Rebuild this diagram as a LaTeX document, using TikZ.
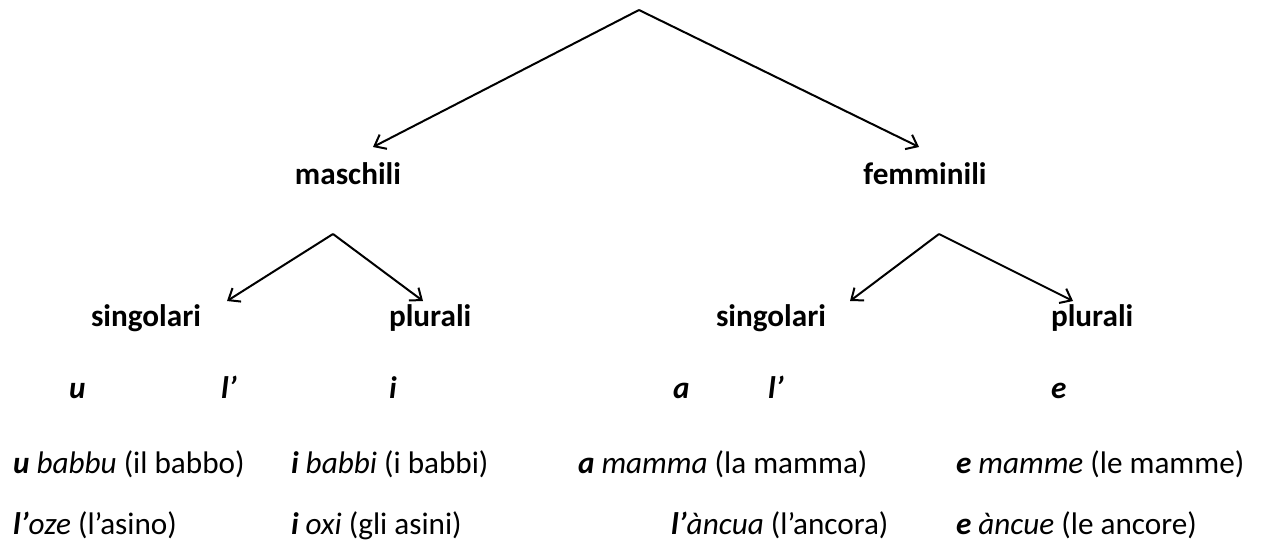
\documentclass[tikz,border=0pt]{standalone}
\usepackage{fontspec}
\setmainfont{Carlito}
\usetikzlibrary{arrows.meta, positioning}

\newcommand{\art}[1]{\textbf{\textit{#1}}}

\begin{document}
\begin{tikzpicture}[
        x=0.5pt, y=-0.5pt,
        line width=1pt,
        font=\fontsize{15.6}{18}\selectfont,
        branch/.style = {
            -{Straight Barb[length=5pt, width=8pt]},
            line join=miter
        },
        genre/.style = {
            anchor=base,
            inner sep=0pt,
            font=\fontsize{15.6}{18}\selectfont\bfseries
        },
        word/.style = {
            anchor=base west,
            inner sep=0pt
        }
    ]

    \useasboundingbox (0,0) rectangle (1261,551);

    % genere
    \node[genre] (masc) at (348,184) {maschili};
    \node[genre] (femm) at (925,184) {femminili};

    % numero
    \node[word, font=\fontsize{15.6}{18}\selectfont\bfseries] (msing) at (90,326) {singolari};
    \node[word, font=\fontsize{15.6}{18}\selectfont\bfseries] (mplur) at (388,326) {plurali};
    \node[word, font=\fontsize{15.6}{18}\selectfont\bfseries] (fsing) at (715,326) {singolari};
    \node[word, font=\fontsize{15.6}{18}\selectfont\bfseries] (fplur) at (1050,326) {plurali};

    % articoli
    \node[word] (artu) at (68,398) {\art{u}};
    \node[word] (artlm) at (220,398) {\art{l’}};
    \node[word] (arti) at (388,398) {\art{i}};
    \node[word] (arta) at (672,398) {\art{a}};
    \node[word] (artlf) at (767,398) {\art{l’}};
    \node[word] (arte) at (1050,398) {\art{e}};

    % esempi
    \node[word] (babbu) at (12,473) {\art{u} \textit{babbu} (il babbo)};
    \node[word] (babbi) at (290,473) {\art{i} \textit{babbi} (i babbi)};
    \node[word] (mamma) at (577,473) {\art{a} \textit{mamma} (la mamma)};
    \node[word] (mamme) at (955,473) {\art{e} \textit{mamme} (le mamme)};
    \node[word] (oze) at (12,534) {\art{l’}\textit{oze} (l’asino)};
    \node[word] (oxi) at (290,534) {\art{i} \textit{oxi} (gli asini)};
    \node[word] (ancua) at (670,534) {\art{l’}\textit{àncua} (l’ancora)};
    \node[word] (ancue) at (955,534) {\art{e} \textit{àncue} (le ancore)};

    % vertici e punte
    \coordinate (top) at (639,10);
    \coordinate (topl) at (373,147);
    \coordinate (topr) at (919,147);
    \coordinate (mtop) at (333,234);
    \coordinate (mtl) at (227,301);
    \coordinate (mtr) at (423,301);
    \coordinate (ftop) at (939,234);
    \coordinate (ftl) at (850,301);
    \coordinate (ftr) at (1073,301);

    \draw[branch] (top) -- (topl);
    \draw[branch] (top) -- (topr);
    \draw[branch] (mtop) -- (mtl);
    \draw[branch] (mtop) -- (mtr);
    \draw[branch] (ftop) -- (ftl);
    \draw[branch] (ftop) -- (ftr);

\end{tikzpicture}
\end{document}
